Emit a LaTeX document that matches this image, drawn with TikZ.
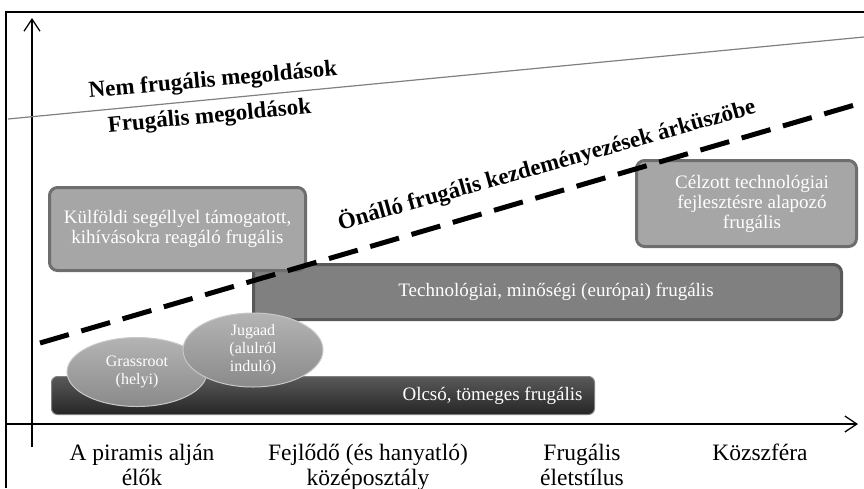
\documentclass[tikz,border=0pt]{standalone}
\usepackage{fontspec}
\setmainfont{Liberation Serif}
\usetikzlibrary{arrows.meta}
\usetikzlibrary{shapes.geometric}
\definecolor{boxlight}{HTML}{A6A6A6}
\definecolor{boxlightrim}{HTML}{6E6E6E}
\definecolor{boxmid}{HTML}{808080}
\definecolor{boxmidrim}{HTML}{595959}
\definecolor{boxdarktop}{HTML}{595959}
\definecolor{boxdarkbot}{HTML}{262626}
\definecolor{ovaltop}{HTML}{B4B4B4}
\definecolor{ovalbot}{HTML}{8A8A8A}
\definecolor{ovalrim}{HTML}{C8C8C8}
\definecolor{splitgray}{HTML}{808080}

\begin{document}
\begin{tikzpicture}[x=1pt,y=-1pt,>={Straight Barb[length=12pt,width=16pt]},
	box/.style={draw, rounded corners=8pt, line width=3pt, inner sep=0pt, text=white, align=center, font=\fontsize{19}{20}\selectfont},
	oval/.style={ellipse, draw=ovalrim, line width=1pt, top color=ovaltop, bottom color=ovalbot, inner sep=0pt, text=white, align=center, font=\fontsize{16}{18}\selectfont},
	axislbl/.style={align=center, font=\fontsize{23.5}{25}\selectfont},
	bigtxt/.style={anchor=base, font=\bfseries\fontsize{23}{24}\selectfont}]
				\useasboundingbox (0,0) rectangle (864,488);
				
				% draw frame
				\draw[line width=1.3pt] (6,488) -- (6,12) -- (864,12);
				
				% draw axes
				\coordinate (yfoot) at (32,447);
				\coordinate (ytop) at (32,18);
				\coordinate (xfoot) at (6,424);
				\coordinate (xtip) at (858,424);
				\draw[->, line width=1.3pt] (yfoot) -- (ytop);
				\draw[->, line width=1.3pt] (xfoot) -- (xtip);
				
				% draw frugal border
				\coordinate (splitl) at (8,119);
				\coordinate (splitr) at (864,37);
				\draw[splitgray, line width=1.2pt] (splitl) -- (splitr);
				
				% draw boxes
				\node[box, draw=boxmidrim, fill=boxmid, minimum width=588, minimum height=55] (techno) at (547.5,292) {\hspace*{17pt}Technológiai, minőségi (európai) frugális};
				\node[box, draw=boxlightrim, fill=boxlight, minimum width=256, minimum height=83] (kulfoldi) at (177.5,229) {Külföldi segéllyel támogatott,\\kihívásokra reagáló frugális};
				\node[box, draw=boxlightrim, fill=boxlight, minimum width=220, minimum height=86] (celzott) at (746.5,203.5) {\hspace*{11pt}Célzott technológiai\\\hspace*{11pt}fejlesztésre alapozó\\\hspace*{11pt}frugális};
				\node[draw=boxmid, line width=1pt, rounded corners=6pt, top color=boxdarktop, bottom color=boxdarkbot, minimum width=543, minimum height=38, inner sep=0pt] (olcso) at (323,395.5) {};
				\node[anchor=east, text=white, font=\fontsize{19}{20}\selectfont] (olcsolbl) at ([xshift=-9pt]olcso.east) {Olcsó, tömeges frugális};
				
				% draw ovals
				\node[oval, minimum width=140, minimum height=69] (grass) at (137,372) {Grassroot\\(helyi)};
				\node[oval, minimum width=140, minimum height=74] (jugaad) at (253,350) {Jugaad\\(alulról\\induló)};
				
				% draw threshold
				\coordinate (threshl) at (40,343);
				\coordinate (threshr) at (858,104);
				\draw[line width=5pt, dash pattern=on 30pt off 13pt] (threshl) -- (threshr);
				
				% rotated labels
				\node[bigtxt, rotate=5.2] (nemfrug) at (213.5,86.5) {Nem frugális megoldások};
				\node[bigtxt, rotate=5.2] (frug) at (210,123) {Frugális megoldások};
				\node[bigtxt, rotate=15.7] (onallo) at (548.5,171.5) {Önálló frugális kezdeményezések árküszöbe};
				
				% axis labels
				\node[axislbl, anchor=base] (piramis) at (142,485) {A piramis alján\\élők};
				\node[axislbl, anchor=base] (fejlodo) at (368,485) {Fejlődő (és hanyatló)\\középosztály};
				\node[axislbl, anchor=base] (eletstil) at (582,485) {Frugális\\életstílus};
				\node[axislbl, anchor=base] (kozszfera) at (760,460) {Közszféra};
			\end{tikzpicture}
\end{document}
